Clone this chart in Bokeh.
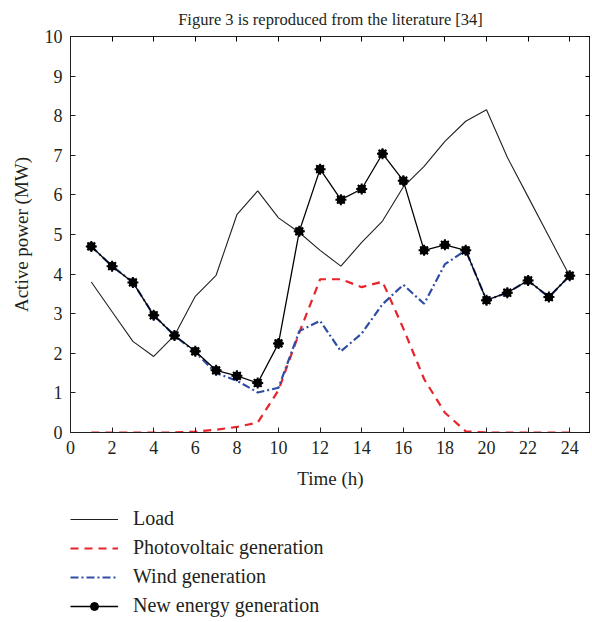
from bokeh.plotting import figure
from bokeh.layouts import column
from bokeh.models import Range1d, LinearAxis, FixedTicker, Legend, LegendItem
from bokeh.embed import file_html
from bokeh.resources import INLINE

hours = list(range(1, 25))
load = [3.8, 3.05, 2.3, 1.92, 2.45, 3.44, 3.97, 5.5, 6.1, 5.42, 5.05, 4.6,
        4.2, 4.8, 5.34, 6.2, 6.72, 7.35, 7.86, 8.15, 6.95, 5.95, 4.95, 3.95]
pv = [0.0, 0.0, 0.0, 0.0, 0.0, 0.02, 0.07, 0.14, 0.25, 1.07, 2.52, 3.87,
      3.87, 3.67, 3.81, 2.63, 1.35, 0.5, 0.03, 0.0, 0.0, 0.0, 0.0, 0.0]
wind = [4.7, 4.2, 3.79, 2.96, 2.45, 2.03, 1.5, 1.31, 1.01, 1.13, 2.56, 2.82,
        2.05, 2.5, 3.24, 3.73, 3.25, 4.25, 4.6, 3.34, 3.53, 3.84, 3.42, 3.96]
new_energy = [4.7, 4.2, 3.79, 2.96, 2.45, 2.05, 1.57, 1.43, 1.25, 2.25, 5.08, 6.65,
              5.88, 6.15, 7.04, 6.36, 4.6, 4.74, 4.6, 3.34, 3.53, 3.84, 3.42, 3.96]

x_ticks = [0, 2, 4, 6, 8, 10, 12, 14, 16, 18, 20, 22, 24]
y_ticks = [0, 1, 2, 3, 4, 5, 6, 7, 8, 9, 10]

title_text = "Figure 3 is reproduced from the literature [34]"
x_label = "Time (h)"
y_label = "Active power (MW)"
series_names = ["Load", "Photovoltaic generation", "Wind generation", "New energy generation"]

FONT = "Liberation Serif"
TXT = "#231f20"
RED = "#e8232b"
BLUE = "#2f4ea3"

p = figure(frame_width=520, frame_height=396, output_backend="svg",
           toolbar_location=None, x_range=Range1d(0, 25), y_range=Range1d(0, 10),
           min_border_left=70, min_border_right=0, min_border_top=36,
           min_border_bottom=62, title=title_text)

p.title.text_font = FONT
p.title.text_font_size = "16.5px"
p.title.text_font_style = "normal"
p.title.text_color = TXT
p.title.align = "center"
p.title.standoff = 15

p.background_fill_color = "white"
p.border_fill_color = "white"
p.outline_line_color = "#231f20"
p.outline_line_width = 1
p.xgrid.visible = False
p.ygrid.visible = False

for ax, ticks in ((p.xaxis[0], x_ticks), (p.yaxis[0], y_ticks)):
    ax.ticker = FixedTicker(ticks=ticks)
    ax.major_tick_in = 5
    ax.major_tick_out = 0
    ax.minor_tick_in = 0
    ax.minor_tick_out = 0
    ax.axis_line_color = "#231f20"
    ax.major_tick_line_color = "#231f20"
    ax.major_label_text_font = FONT
    ax.major_label_text_font_size = "18px"
    ax.major_label_text_color = TXT
    ax.axis_label_text_font = FONT
    ax.axis_label_text_font_size = "19px"
    ax.axis_label_text_font_style = "normal"
    ax.axis_label_text_color = TXT

p.xaxis.axis_label = x_label
p.yaxis.axis_label = y_label
p.xaxis.major_label_standoff = 8
p.xaxis.axis_label_standoff = 11
p.yaxis.major_label_standoff = 8
p.yaxis.axis_label_standoff = 10

top = LinearAxis(ticker=FixedTicker(ticks=x_ticks), major_tick_in=5, major_tick_out=0,
                 minor_tick_in=0, minor_tick_out=0, major_label_text_font_size="0px",
                 major_label_standoff=0, axis_line_color="#231f20")
right = LinearAxis(ticker=FixedTicker(ticks=y_ticks), major_tick_in=5, major_tick_out=0,
                   minor_tick_in=0, minor_tick_out=0, major_label_text_font_size="0px",
                   major_label_standoff=0, axis_line_color="#231f20")
p.add_layout(top, "above")
p.add_layout(right, "right")

LOAD_STYLE = dict(line_color="#231f20", line_width=1.1)
PV_STYLE = dict(line_color=RED, line_width=2.2, line_dash="8 6")
WIND_STYLE = dict(line_color=BLUE, line_width=2.2, line_dash="8 3 2 3")
NE_STYLE = dict(line_color="black", line_width=1.3)

p.line(hours, load, **LOAD_STYLE)
p.line(hours, pv, **PV_STYLE)
p.line(hours, wind, **WIND_STYLE)
p.line(hours, new_energy, **NE_STYLE)
p.scatter(hours, new_energy, marker="circle", size=8, fill_color="black", line_color="black")
p.scatter(hours, new_energy, marker="asterisk", size=11, line_color="black", line_width=2)

# legend panel below the chart
lg = figure(width=592, height=128, output_backend="svg", toolbar_location=None,
            x_range=Range1d(0, 1), y_range=Range1d(0, 1),
            x_axis_location=None, y_axis_location=None,
            min_border_left=0, min_border_right=0, min_border_top=0, min_border_bottom=0)
lg.outline_line_color = None
lg.xgrid.visible = False
lg.ygrid.visible = False
lg.background_fill_color = "white"
lg.border_fill_color = "white"

# legend-only renderers, placed outside the visible range
ox = [-10, -9]
oy = [-10, -9]
l1 = lg.line(ox, oy, **LOAD_STYLE)
l2 = lg.line(ox, oy, **PV_STYLE)
l3 = lg.line(ox, oy, **WIND_STYLE)
l4 = lg.line(ox, oy, **NE_STYLE)
l4c = lg.scatter(ox, oy, marker="circle", size=7, fill_color="black", line_color="black")

legend = Legend(items=[
    LegendItem(label=series_names[0], renderers=[l1]),
    LegendItem(label=series_names[1], renderers=[l2]),
    LegendItem(label=series_names[2], renderers=[l3]),
    LegendItem(label=series_names[3], renderers=[l4, l4c]),
], location=(0, 5), orientation="vertical")
legend.border_line_color = None
legend.background_fill_alpha = 0
legend.label_text_font = FONT
legend.label_text_font_size = "20px"
legend.label_text_color = TXT
legend.glyph_width = 48
legend.glyph_height = 20
legend.label_height = 20
legend.label_standoff = 15
legend.spacing = 6
legend.padding = 0
legend.margin = 0
lg.add_layout(legend, "center")

layout = column(p, lg, spacing=0)
open("out.html", "w").write(file_html(layout, INLINE))
